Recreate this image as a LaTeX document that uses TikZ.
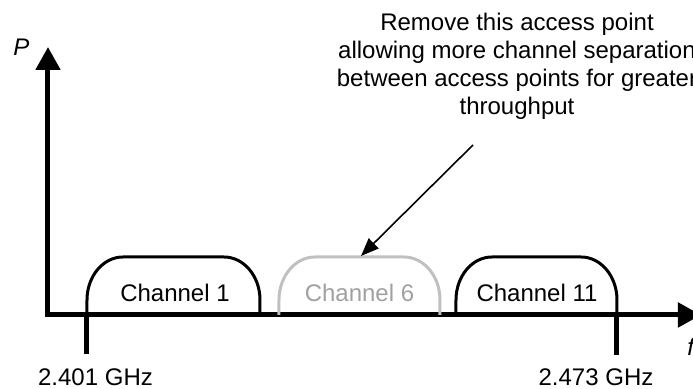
\documentclass[tikz,border=0pt]{standalone}
\usepackage{fontspec}
\setmainfont{Liberation Sans}
\usetikzlibrary{arrows.meta}

\definecolor{offline}{RGB}{192,192,192}
\definecolor{offtext}{RGB}{160,160,160}

\begin{document}
\begin{tikzpicture}[x=0.5pt, y=0.5pt,
        axis/.style={line width=2.5pt, {Triangle[length=11.5pt, width=12pt]}-{Triangle[length=11.5pt, width=12pt]}},
        tick/.style={line width=2.5pt},
        chan/.style={line width=1.5pt, black},
        lbl/.style={font=\fontsize{12}{14}\selectfont, inner sep=0pt},
        pointer/.style={line width=0.8pt, -{Triangle[length=9pt, width=7pt]}}
    ]
        \useasboundingbox (0,0) rectangle (693,389);
        \clip (0,0) rectangle (693,389);

        % axes
        \coordinate (origin) at (48,74);
        \coordinate (ptop) at (48,342);
        \coordinate (fend) at (701,74);
        \draw[axis] (ptop) -- (origin) -- (fend);
        \node[lbl, anchor=base west] (plabel) at (13,333) {\textit{P}};
        \node[lbl, anchor=base west] (flabel) at (687,33) {\textit{f}};

        % band edges
        \coordinate (lo) at (87,74);
        \coordinate (loend) at (87,35);
        \coordinate (hi) at (617,74);
        \coordinate (hiend) at (617,34);
        \draw[tick] (lo) -- (loend);
        \draw[tick] (hi) -- (hiend);
        \node[lbl, anchor=base] (lolbl) at (95.5,3) {2.401 GHz};
        \node[lbl, anchor=base] (hilbl) at (596,3) {2.473 GHz};

        % channels
        \draw[chan] (87,74) -- (87,89) arc[start angle=180, end angle=90, x radius=36, y radius=43]
            -- (224,132) arc[start angle=90, end angle=0, x radius=36, y radius=43] -- (260,74);
        \draw[chan, offline] (279,74) -- (279,89) arc[start angle=180, end angle=90, x radius=36, y radius=43]
            -- (404,132) arc[start angle=90, end angle=0, x radius=36, y radius=43] -- (440,74);
        \draw[chan] (456,74) -- (456,89) arc[start angle=180, end angle=90, x radius=36, y radius=43]
            -- (581,132) arc[start angle=90, end angle=0, x radius=36, y radius=43] -- (617,74);
        \node[lbl, anchor=base] (ch1) at (175,87) {Channel 1};
        \node[lbl, anchor=base, text=offtext] (ch6) at (359.5,87) {Channel 6};
        \node[lbl, anchor=base] (ch11) at (537,87) {Channel 11};

        % note
        \node[lbl, align=center, anchor=north] (note) at (517,376) {Remove this access point\\allowing more channel separation\\between access points for greater\\throughput};
        \coordinate (tail) at (473,244);
        \coordinate (gap) at (361,133);
        \draw[pointer] (tail) -- (gap);
    \end{tikzpicture}
\end{document}
